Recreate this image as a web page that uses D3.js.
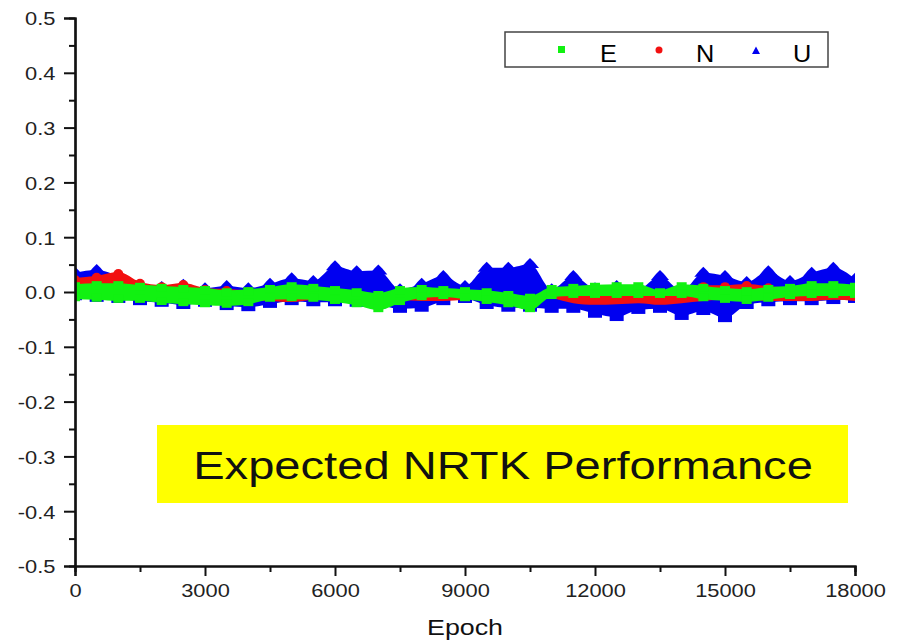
<!DOCTYPE html>
<html>
<head>
<meta charset="utf-8">
<script src="https://cdn.jsdelivr.net/npm/d3@7"></script>
<style>
  body { margin: 0; background: #fff; }
  svg { display: block; font-family: Arial, "Liberation Sans", sans-serif; }
</style>
</head>
<body>
<svg id="chart" width="899" height="641"></svg>
<script>
// epoch samples, every 500 epochs
const epochs = [0, 500, 1000, 1500, 2000, 2500, 3000, 3500, 4000, 4500, 5000, 5500,
  6000, 6500, 7000, 7500, 8000, 8500, 9000, 9500, 10000, 10500, 11000, 11500,
  12000, 12500, 13000, 13500, 14000, 14500, 15000, 15500, 16000, 16500, 17000, 17500, 18000];

// upper / lower envelope of each scatter band (m)
const uHi = [0.046, 0.051, 0.040, 0.020, 0.020, 0.024, 0.018, 0.022, 0.018, 0.026, 0.036, 0.031,
  0.058, 0.049, 0.050, 0.016, 0.026, 0.040, 0.022, 0.055, 0.055, 0.062, 0.016, 0.040,
  0.018, 0.022, 0.016, 0.040, 0.013, 0.046, 0.040, 0.029, 0.049, 0.031, 0.046, 0.055, 0.035];
const uLo = [-0.015, -0.018, -0.020, -0.024, -0.027, -0.031, -0.027, -0.033, -0.035, -0.029, -0.024, -0.026,
  -0.026, -0.027, -0.031, -0.038, -0.036, -0.024, -0.020, -0.031, -0.036, -0.036, -0.038, -0.038,
  -0.047, -0.053, -0.040, -0.038, -0.051, -0.042, -0.055, -0.031, -0.026, -0.024, -0.024, -0.022, -0.020];

const nHi = [0.031, 0.035, 0.042, 0.024, 0.018, 0.022, 0.013, 0.011, 0.009, 0.011, 0.013, 0.009,
  0.005, 0.004, 0.002, 0.005, 0.007, 0.007, 0.004, 0.004, 0.000, -0.004, 0.007, 0.009,
  0.007, 0.004, 0.002, 0.005, 0.016, 0.018, 0.018, 0.020, 0.016, 0.013, 0.009, 0.007, 0.005];
const nLo = [0.000, -0.004, 0.000, 0.004, -0.002, -0.007, -0.015, -0.016, -0.018, -0.020, -0.022, -0.018,
  -0.015, -0.013, -0.015, -0.018, -0.020, -0.020, -0.018, -0.015, -0.013, -0.011, -0.015, -0.024,
  -0.027, -0.026, -0.024, -0.027, -0.024, -0.020, -0.018, -0.018, -0.020, -0.020, -0.020, -0.018, -0.020];

const eHi = [0.016, 0.018, 0.018, 0.015, 0.013, 0.011, 0.009, 0.005, 0.007, 0.011, 0.016, 0.013,
  0.009, 0.005, 0.000, 0.009, 0.011, 0.009, 0.007, 0.005, 0.000, -0.005, 0.011, 0.013,
  0.015, 0.016, 0.016, 0.005, 0.016, 0.013, 0.009, 0.007, 0.011, 0.013, 0.018, 0.018, 0.015];
const eLo = [-0.015, -0.016, -0.018, -0.018, -0.022, -0.024, -0.026, -0.027, -0.024, -0.016, -0.015, -0.016,
  -0.020, -0.026, -0.035, -0.022, -0.013, -0.011, -0.015, -0.020, -0.026, -0.035, -0.011, -0.009,
  -0.009, -0.009, -0.009, -0.009, -0.009, -0.015, -0.018, -0.020, -0.016, -0.011, -0.009, -0.009, -0.009];

const xTicks = [0, 3000, 6000, 9000, 12000, 15000, 18000];
const yTicks = [-0.5, -0.4, -0.3, -0.2, -0.1, 0.0, 0.1, 0.2, 0.3, 0.4, 0.5];
const legendNames = ["E", "N", "U"];

const svg = d3.select("#chart");
const margin = {top: 18, left: 75},
  width = 780,
  height = 548,
  g = svg.append("g").attr("transform", "translate(" + margin.left + "," + margin.top + ")");

svg.append("defs").append("clipPath").attr("id", "plot")
  .append("rect").attr("x", 0).attr("y", 0).attr("width", width).attr("height", height);

const x = d3.scaleLinear().domain([0, 18000]).range([0, width]);
const y = d3.scaleLinear().domain([-0.5, 0.5]).range([height, 0]);

function band(hi, lo) {
  return epochs.map((e, i) => ({e: e, hi: hi[i], lo: lo[i]}));
}

const uData = band(uHi, uLo), nData = band(nHi, nLo), eData = band(eHi, eLo);
const BLUE = "#0000f0", RED = "#f21010", GREEN = "#11f111";
const marks = g.append("g").attr("clip-path", "url(#plot)");

// U band: body with triangle spikes on top and square blocks at the bottom
marks.append("path")
  .datum(uData)
  .attr("fill", BLUE)
  .attr("d", d3.area().curve(d3.curveMonotoneX)
    .x(d => x(d.e)).y0(d => y(d.lo) - 4).y1(d => y(d.hi) + 6));

marks.selectAll(".tri")
  .data(uData)
  .enter().append("path")
  .attr("fill", BLUE)
  .attr("d", d => {
    const cx = x(d.e), cy = y(d.hi);
    return "M" + (cx - 9) + "," + (cy + 10) + "L" + (cx - 4) + "," + (cy + 4) + "L" + cx + "," + cy +
      "L" + (cx + 4) + "," + (cy + 4) + "L" + (cx + 9) + "," + (cy + 10) + "Z";
  });

marks.selectAll(".blk")
  .data(uData)
  .enter().append("rect")
  .attr("fill", BLUE)
  .attr("x", d => x(d.e) - 7)
  .attr("y", d => y(d.lo) - 8)
  .attr("width", 14)
  .attr("height", 8);

// N band
marks.append("path")
  .datum(nData)
  .attr("fill", RED)
  .attr("d", d3.area().curve(d3.curveMonotoneX)
    .x(d => x(d.e)).y0(d => y(d.lo) - 2).y1(d => y(d.hi) + 3));

marks.selectAll(".dotn")
  .data(nData)
  .enter().append("circle")
  .attr("fill", RED)
  .attr("cx", d => x(d.e))
  .attr("cy", d => y(d.hi) + 5)
  .attr("r", 5);

// E band, with square markers roughening both edges
marks.append("path")
  .datum(eData)
  .attr("fill", GREEN)
  .attr("d", d3.area().curve(d3.curveMonotoneX)
    .x(d => x(d.e)).y0(d => y(d.lo) - 1).y1(d => y(d.hi) + 1));

marks.selectAll(".sqhi")
  .data(eData)
  .enter().append("rect")
  .attr("fill", GREEN)
  .attr("x", d => x(d.e) - 5)
  .attr("y", d => y(d.hi) - 1)
  .attr("width", 10)
  .attr("height", 8);

marks.selectAll(".sqlo")
  .data(eData)
  .enter().append("rect")
  .attr("fill", GREEN)
  .attr("x", d => x(d.e) - 5)
  .attr("y", d => y(d.lo) - 7)
  .attr("width", 10)
  .attr("height", 8);

// axes
const xAxis = g.append("g")
  .attr("transform", "translate(0," + height + ")")
  .call(d3.axisBottom(x).tickValues(xTicks).tickFormat(d3.format("d")).tickSize(10).tickPadding(8));
g.append("g")
  .attr("transform", "translate(0," + height + ")")
  .call(d3.axisBottom(x).tickValues(xTicks.slice(0, -1).map(v => v + 1500)).tickFormat("").tickSize(6));

const yAxis = g.append("g")
  .call(d3.axisLeft(y).tickValues(yTicks).tickFormat(d3.format(".1f")).tickSize(11).tickPadding(6));
g.append("g")
  .call(d3.axisLeft(y).tickValues(yTicks.slice(0, -1).map(v => v + 0.05)).tickFormat("").tickSize(6));

g.selectAll(".domain").attr("stroke", "#111").attr("stroke-width", 2.2);
g.selectAll(".tick line").attr("stroke", "#111").attr("stroke-width", 2);
xAxis.selectAll("text").attr("font-size", 19).attr("fill", "#222")
  .attr("transform", "scale(1.15,1)");
yAxis.selectAll("text").attr("font-size", 19).attr("fill", "#222")
  .attr("dy", "0.36em").attr("transform", "scale(1.15,1)");
yAxis.selectAll(".tick text").text(d => d3.format(".1f")(d).replace("−", "-"));

svg.append("text")
  .attr("transform", "translate(465,635) scale(1.22,1)")
  .attr("text-anchor", "middle")
  .attr("font-size", 22)
  .attr("fill", "#111")
  .text("Epoch");

// legend
const lg = svg.append("g");
lg.append("rect")
  .attr("x", 505).attr("y", 32).attr("width", 323).attr("height", 35)
  .attr("fill", "#fff").attr("stroke", "#444").attr("stroke-width", 1.5);
lg.append("rect").attr("x", 558).attr("y", 46).attr("width", 7).attr("height", 7).attr("fill", GREEN);
lg.append("circle").attr("cx", 659).attr("cy", 50).attr("r", 3.5).attr("fill", RED);
lg.append("path").attr("d", "M752,54L756,46.5L760,54Z").attr("fill", BLUE);
const legendX = [600, 696, 793];
legendNames.forEach((n, i) => {
  lg.append("text")
    .attr("transform", "translate(" + legendX[i] + ",62) scale(1.1,1)")
    .attr("font-size", 23)
    .attr("fill", "#000")
    .text(n);
});

// yellow annotation
svg.append("rect")
  .attr("x", 157).attr("y", 425).attr("width", 691).attr("height", 78)
  .attr("fill", "#ffff00");
svg.append("text")
  .attr("transform", "translate(503,479) scale(1.24,1)")
  .attr("text-anchor", "middle")
  .attr("font-size", 38)
  .attr("fill", "#111")
  .text("Expected NRTK Performance");
</script>
</body>
</html>
